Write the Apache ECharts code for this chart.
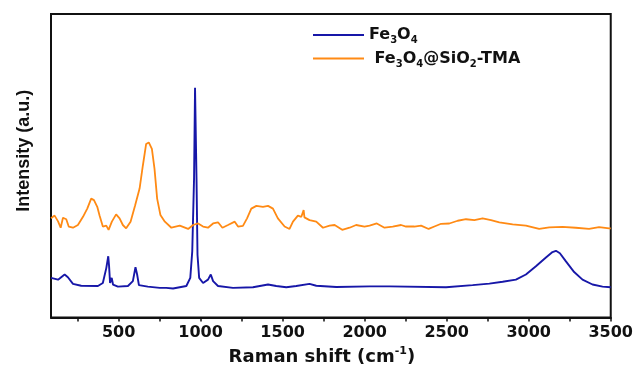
<!DOCTYPE html>
<html>
<head>
<meta charset="utf-8">
<script src="https://cdn.jsdelivr.net/npm/echarts@6/dist/echarts.min.js"></script>
<style>
    html, body { margin: 0; padding: 0; background: #fff; }
    #chart { width: 636px; height: 371px; }
</style>
</head>
<body>
<div id="chart"></div>
<script>
    // Raman shift (cm-1) vs intensity (intensity in arbitrary units 0-100)
    let fe3o4 = [
        [88, 13.1], [131, 12.5], [171, 14.2], [191, 13.3], [222, 11.1], [272, 10.5], [374, 10.4],
        [404, 11.4], [425, 16.3], [437, 20.2], [442, 17.0], [448, 11.4], [458, 13.1], [466, 10.9],
        [496, 10.2], [557, 10.4], [587, 12.0], [603, 16.6], [613, 14.2], [624, 10.7], [678, 10.2],
        [751, 9.8], [790, 9.8], [832, 9.6], [913, 10.4], [937, 13.1], [949, 21.8], [960, 45.8],
        [966, 75.7], [975, 45.8], [981, 20.7], [991, 13.1], [1015, 11.4], [1045, 12.5], [1062, 14.2],
        [1076, 12.0], [1106, 10.4], [1197, 9.8], [1319, 10.0], [1411, 10.9], [1461, 10.4], [1522, 10.0],
        [1583, 10.4], [1664, 11.1], [1705, 10.5], [1827, 10.1], [2030, 10.3], [2151, 10.3], [2496, 10.0],
        [2658, 10.7], [2760, 11.2], [2841, 11.8], [2922, 12.5], [2983, 14.2], [3044, 16.9], [3105, 19.8],
        [3145, 21.6], [3166, 22.0], [3190, 21.2], [3227, 18.5], [3277, 15.0], [3328, 12.5], [3389, 10.9],
        [3450, 10.2], [3500, 10.0]
    ]
    let fe3o4SiO2 = [
        [88, 32.7], [110, 33.6], [131, 31.7], [147, 29.6], [161, 32.9], [181, 32.4], [196, 30.0],
        [222, 29.6], [252, 30.5], [283, 33.2], [309, 35.9], [333, 39.2], [350, 38.7], [370, 36.5],
        [384, 33.6], [404, 30.0], [425, 30.3], [439, 28.9], [459, 31.6], [485, 34.0], [506, 32.7],
        [526, 30.5], [546, 29.4], [573, 31.6], [601, 37.0], [628, 42.5], [648, 50.1], [668, 57.2],
        [684, 57.7], [703, 55.6], [719, 49.0], [735, 39.2], [755, 33.8], [782, 31.6], [822, 29.6],
        [873, 30.3], [924, 29.2], [954, 30.5], [985, 31.0], [1015, 30.0], [1045, 29.6], [1076, 31.0],
        [1106, 31.4], [1133, 29.6], [1167, 30.5], [1208, 31.6], [1228, 30.0], [1258, 30.2], [1283, 32.7],
        [1309, 35.9], [1340, 36.8], [1380, 36.5], [1411, 36.8], [1441, 35.9], [1471, 32.7], [1512, 30.0],
        [1542, 29.2], [1563, 31.6], [1593, 33.6], [1614, 33.2], [1624, 33.8], [1628, 35.4], [1633, 33.0],
        [1664, 32.1], [1705, 31.6], [1746, 29.6], [1786, 30.3], [1817, 30.5], [1863, 28.9], [1908, 29.6],
        [1948, 30.5], [1999, 30.0], [2030, 30.3], [2074, 31.0], [2121, 29.6], [2171, 30.0], [2222, 30.5],
        [2252, 30.0], [2303, 30.0], [2344, 30.3], [2390, 29.2], [2425, 30.0], [2466, 30.9], [2516, 31.0],
        [2567, 31.9], [2618, 32.4], [2669, 32.1], [2719, 32.7], [2770, 32.1], [2821, 31.4], [2902, 30.7],
        [2983, 30.3], [3064, 29.2], [3125, 29.7], [3206, 29.9], [3287, 29.6], [3368, 29.2], [3429, 29.8],
        [3490, 29.4], [3500, 29.4]
    ]
    let xLabels = [500, 1000, 1500, 2000, 2500, 3000, 3500]
    let xTicks = [250, 500, 750, 1000, 1250, 1500, 1750, 2000, 2250, 2500, 2750, 3000, 3250, 3500]
    let seriesNames = ['Fe3O4', 'Fe3O4@SiO2-TMA']

    let wideFont = '"DejaVu Sans", sans-serif'
    let font = '"Liberation Sans", Arial, sans-serif'
    let myChart = echarts.init(document.getElementById('chart'))

    // 图例里的下标
    let legendText = {
        'Fe3O4': '{n|Fe}{s|3}{n|O}{s|4}',
        'Fe3O4@SiO2-TMA': '{n| Fe}{s|3}{n|O}{s|4}{n|@SiO}{s|2}{n|-TMA}'
    }

    let option = {
        animation: false,
        grid: {
            left: 51,
            right: 24,
            top: 14,
            bottom: 51,
            show: true,
            borderColor: '#111',
            borderWidth: 2
        },
        legend: {
            orient: 'vertical',
            left: 308,
            top: 22,
            itemWidth: 51,
            itemHeight: 2,
            itemGap: 5,
            icon: 'rect',
            data: seriesNames,
            formatter: function (name) {
                return legendText[name]
            },
            textStyle: {
                color: '#111',
                fontFamily: wideFont,
                rich: {
                    n: { fontSize: 16, fontWeight: 'bold', fontFamily: wideFont, color: '#111' },
                    s: { fontSize: 10, fontWeight: 'bold', fontFamily: wideFont, color: '#111', padding: [11, 0, 0, 0] }
                }
            }
        },
        xAxis: {
            type: 'value',
            min: 88,
            max: 3500,
            name: '{n|Raman shift (cm}{p|-1}{n|)}',
            nameLocation: 'middle',
            nameGap: 25,
            nameTextStyle: {
                padding: [0, 18, 0, 0],
                rich: {
                    n: { fontSize: 18, fontWeight: 'bold', fontFamily: wideFont, color: '#111' },
                    p: { fontSize: 11, fontWeight: 'bold', fontFamily: wideFont, color: '#111', padding: [0, 0, 12, 0] }
                }
            },
            axisLine: { lineStyle: { color: '#111', width: 2 } },
            axisTick: {
                show: true,
                length: 4,
                customValues: xTicks,
                lineStyle: { color: '#111', width: 1.5 }
            },
            axisLabel: {
                customValues: xLabels,
                formatter: function (value) {
                    return String(value)
                },
                color: '#111',
                fontSize: 16,
                fontWeight: 'bold',
                fontFamily: wideFont,
                margin: 7
            },
            splitLine: { show: false }
        },
        yAxis: {
            type: 'value',
            min: 0,
            max: 100,
            name: 'Intensity (a.u.)',
            nameLocation: 'middle',
            nameGap: 18,
            nameTextStyle: {
                fontSize: 18,
                fontWeight: 'bold',
                fontFamily: font,
                color: '#111',
                padding: [0, 0, 0, 30]
            },
            axisLine: { show: false },
            axisTick: { show: false },
            axisLabel: { show: false },
            splitLine: { show: false }
        },
        series: [{
            name: seriesNames[0],
            type: 'line',
            data: fe3o4,
            showSymbol: false,
            color: '#1717a8',
            lineStyle: { width: 1.9 }
        }, {
            name: seriesNames[1],
            type: 'line',
            data: fe3o4SiO2,
            showSymbol: false,
            color: '#ff8a14',
            lineStyle: { width: 1.8 }
        }]
    }
    myChart.setOption(option)
</script>
</body>
</html>
